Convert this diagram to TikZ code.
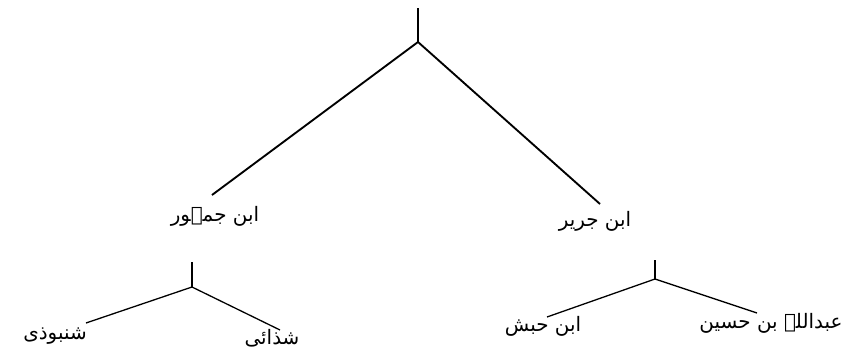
\documentclass[tikz,border=0pt]{standalone}
\usepackage{fontspec}
\newfontfamily\arabicfont[Script=Arabic]{DejaVu Sans}
\TeXXeTstate=1
\tikzset{
  rawi/.style={font=\arabicfont\fontsize{17}{19}\selectfont, inner sep=0pt},
  stem/.style={line width=1.6pt},
  branch/.style={line width=1.1pt}
}
\begin{document}
\begin{tikzpicture}[x=0.3mm,y=-0.3mm]
    \useasboundingbox (0,0) rectangle (842,356);

    % upper level
    \coordinate (top) at (418,8);
    \coordinate (root) at (418,42);
    \coordinate (lend) at (212,195);
    \coordinate (rend) at (600,204);
    \node[rawi] (jumhur) at (215,216) {\beginR ابن جمہور\endR};
    \node[rawi] (jarir) at (595,221) {\beginR ابن جریر\endR};

    % lower level, left
    \coordinate (ltop) at (192,262);
    \coordinate (lroot) at (192,287);
    \coordinate (llend) at (86,323);
    \coordinate (lrend) at (280,330);
    \node[rawi] (shanabudhi) at (55,336) {\beginR شنبوذی\endR};
    \node[rawi] (shadhai) at (272,338) {\beginR شذائی\endR};

    % lower level, right
    \coordinate (rtop) at (655,260);
    \coordinate (rroot) at (655,279);
    \coordinate (rlend) at (547,317);
    \coordinate (rrend) at (757,313);
    \node[rawi] (habash) at (543,326) {\beginR ابن حبش\endR};
    \node[rawi] (abdullah) at (771,323) {\beginR عبداللہ بن حسین\endR};

    % Verbindungslinien
    \draw[stem] (top) -- (root);
    \draw[stem] (lend) -- (root) -- (rend);
    \draw[branch] (ltop) -- (lroot);
    \draw[branch] (llend) -- (lroot) -- (lrend);
    \draw[branch] (rtop) -- (rroot);
    \draw[branch] (rlend) -- (rroot) -- (rrend);
\end{tikzpicture}
\end{document}
